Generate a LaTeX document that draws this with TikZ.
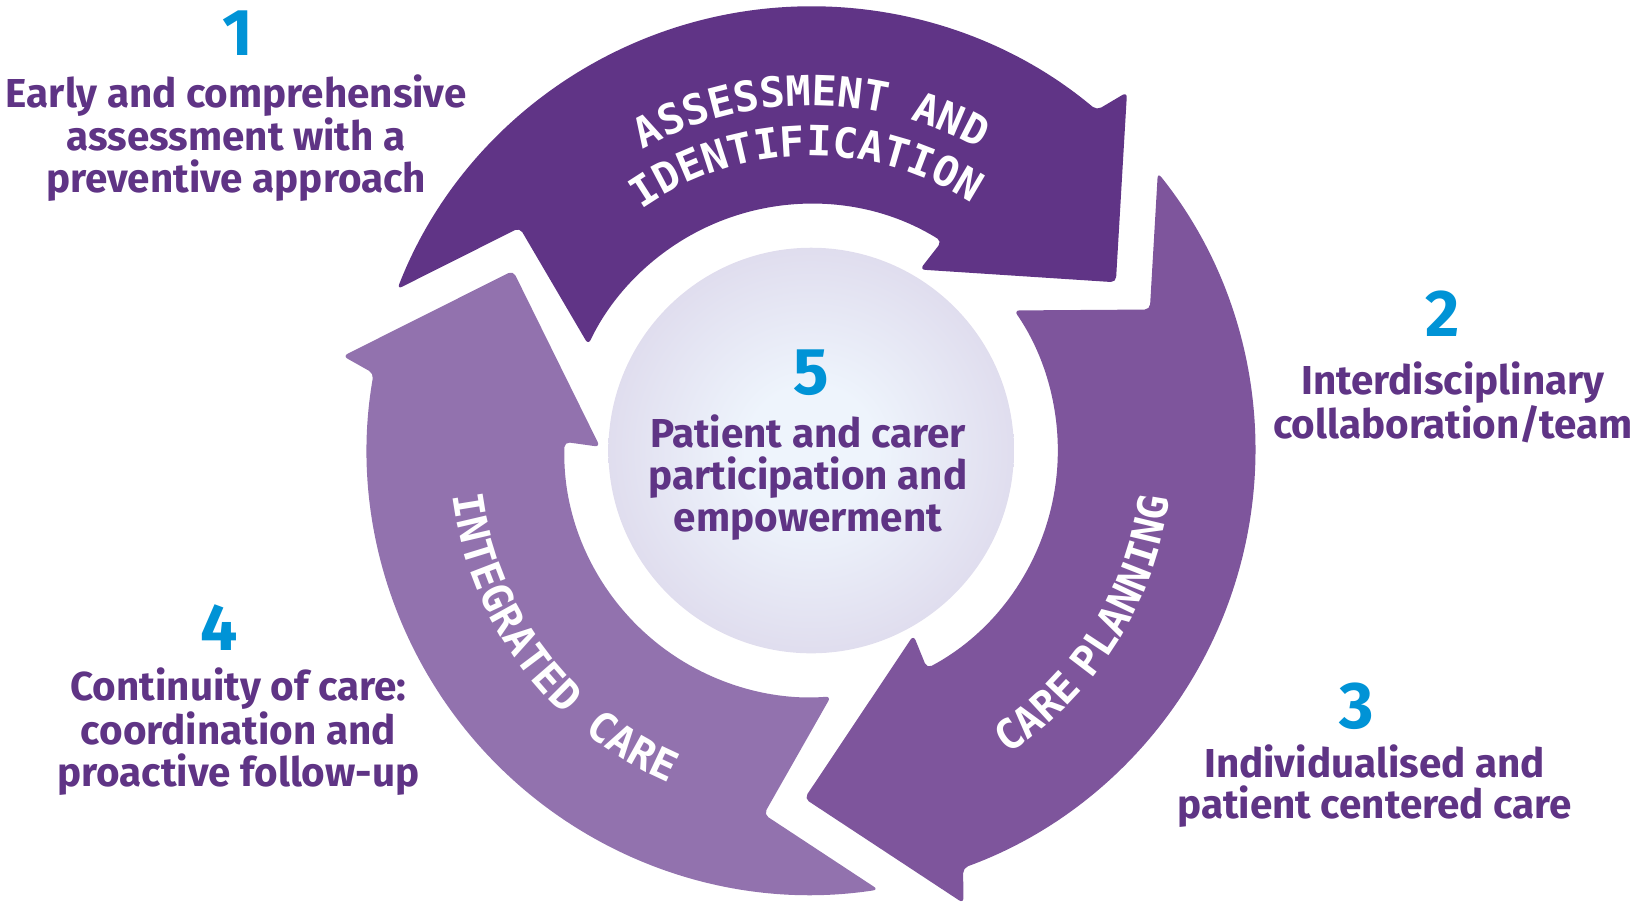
\documentclass[tikz,border=0pt]{standalone}
\usepackage{fontspec}
\setmainfont{Fira Sans}
\newfontfamily\arcfam{DejaVu Sans Mono}
\usetikzlibrary{decorations.text}
\definecolor{arrowA}{HTML}{603486}
\definecolor{arrowB}{HTML}{7E559C}
\definecolor{arrowC}{HTML}{9272AE}
\definecolor{numblue}{HTML}{0093D6}
\definecolor{txtpurple}{HTML}{5F3485}
\definecolor{ballin}{HTML}{EEF4FC}
\definecolor{ballout}{HTML}{CBBCDA}
\pgfdeclareradialshading{ballshade}{\pgfpoint{0bp}{0bp}}{color(0bp)=(ballin); color(8bp)=(ballin); color(50bp)=(ballout)}
\newcommand\arcfont{\arcfam\bfseries\fontsize{22.7pt}{24pt}\selectfont}
\newcommand\ringarrow{(158.7:425) arc[start angle=158.7, end angle=50, radius=425] -- (48.6:457) -- (28.9:333) -- (59:202) -- (58:236) arc[start angle=58, end angle=154.6, radius=236] -- (142.6:351) -- cycle}
\tikzset{
  num/.style={text=numblue, font=\bfseries\fontsize{36pt}{36pt}\selectfont, inner sep=0pt},
  lbl/.style={text=txtpurple, font=\bfseries\fontsize{22pt}{22.7pt}\selectfont, align=center, inner sep=0pt},
  arclabel/.style={decorate, decoration={text along path, text align=center, text color=white, text={|\arcfont|#1}}},
  arclabelleft/.style={decorate, decoration={text along path, text align=left, text color=white, text={|\arcfont|#1}}},
  ringpart/.style={rounded corners=1mm}
}
\begin{document}
\begin{tikzpicture}[x=0.02cm,y=-0.02cm]
\useasboundingbox (0,0) rectangle (1568,872);
\begin{scope}[shift={(776,431)},y=0.02cm]
  \fill[arrowA, ringpart] \ringarrow;
  \fill[arrowB, ringpart, rotate=-120] \ringarrow;
  \fill[arrowC, ringpart, rotate=120] \ringarrow;
  \shade[shading=ballshade] (0,0) circle[radius=194];
  \path[arclabel={ASSESSMENT AND}] (140:330) arc[start angle=140, end angle=40, radius=330];
  \path[arclabel={IDENTIFICATION}] (141:282) arc[start angle=141, end angle=41, radius=282];
  \path[arclabelleft={CARE}] (-57.2:346) arc[start angle=-57.2, end angle=-20, radius=346];
  \path[arclabelleft={PLANNING}] (-39.3:346) arc[start angle=-39.3, end angle=10, radius=346];
  \path[arclabel={INTEGRATED CARE}] (167:346) arc[start angle=167, end angle=267, radius=346];
\end{scope}
\node[num] (n1) at (228,32) {1};
\node[lbl] (t1) at (226,132) {Early and comprehensive\\assessment with a\\preventive approach};
\node[num] (n2) at (1380,300) {2};
\node[lbl] (t2) at (1390,385) {Interdisciplinary\\collaboration/team};
\node[num] (n3) at (1298,676) {3};
\node[lbl] (t3) at (1315,752) {Individualised and\\patient centered care};
\node[num] (n4) at (210,600) {4};
\node[lbl] (t4) at (228,700) {Continuity of care:\\coordination and\\proactive follow-up};
\node[num] (n5) at (776,357) {5};
\node[lbl] (t5) at (773,457) {Patient and carer\\participation and\\empowerment};
\end{tikzpicture}
\end{document}
